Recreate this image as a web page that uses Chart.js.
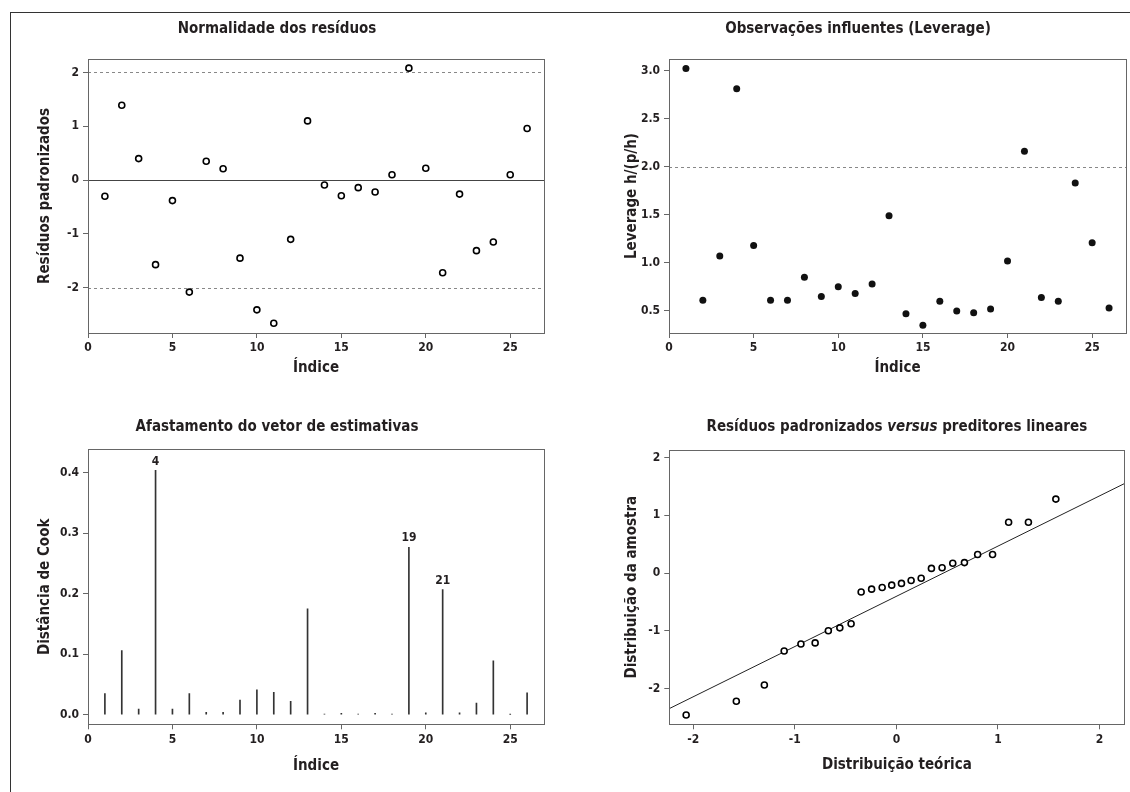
<!DOCTYPE html>
<html><head><meta charset="utf-8">
<script src="https://cdn.jsdelivr.net/npm/chart.js@4.4.0/dist/chart.umd.min.js"></script>
<style>
html,body{margin:0;padding:0;background:#fff;width:1130px;height:792px;overflow:hidden;}
#frame{position:absolute;left:10px;top:12px;width:1200px;height:900px;border-left:1.5px solid #333;border-top:1.5px solid #333;}
canvas{position:absolute;}
</style></head><body>
<div id="frame"></div>
<canvas id="c1" width="560" height="380" style="left:10px;top:12px"></canvas>
<canvas id="c2" width="540" height="380" style="left:590px;top:12px"></canvas>
<canvas id="c3" width="560" height="395" style="left:10px;top:395px"></canvas>
<canvas id="c4" width="540" height="395" style="left:590px;top:395px"></canvas>
<script>
// ---- data ----
const indices = [1,2,3,4,5,6,7,8,9,10,11,12,13,14,15,16,17,18,19,20,21,22,23,24,25,26];
const residuos = [-0.30,1.39,0.40,-1.57,-0.38,-2.08,0.35,0.21,-1.45,-2.41,-2.66,-1.10,1.10,-0.09,-0.29,-0.14,-0.22,0.10,2.08,0.22,-1.72,-0.26,-1.31,-1.15,0.10,0.96];
const leverage = [3.02,0.61,1.07,2.81,1.18,0.61,0.61,0.85,0.65,0.75,0.68,0.78,1.49,0.47,0.35,0.60,0.50,0.48,0.52,1.02,2.16,0.64,0.60,1.83,1.21,0.53];
const cook = [0.035,0.106,0.009,0.404,0.009,0.035,0.004,0.004,0.024,0.041,0.037,0.022,0.175,0.001,0.002,0.001,0.002,0.001,0.277,0.003,0.207,0.003,0.019,0.089,0.0005,0.036];
const cookLabeled = [4,19,21];
const qqTeorica = [-2.07,-1.576,-1.30,-1.105,-0.94,-0.80,-0.67,-0.557,-0.446,-0.347,-0.244,-0.14,-0.046,0.05,0.145,0.244,0.345,0.45,0.555,0.67,0.80,0.947,1.105,1.30,1.57];
const qqAmostra = [-2.46,-2.22,-1.94,-1.35,-1.23,-1.21,-1.00,-0.95,-0.88,-0.33,-0.28,-0.25,-0.21,-0.18,-0.13,-0.09,0.08,0.09,0.17,0.18,0.32,0.32,0.88,0.88,1.28];
const qqLine = {intercept:-0.404, slope:0.8695};
const indexTicks = [0,5,10,15,20,25];
const residTicks = [-2,-1,0,1,2];
const leverageTicks = [0.5,1.0,1.5,2.0,2.5,3.0];
const cookTicks = [0.0,0.1,0.2,0.3,0.4];
const qqTicks = [-2,-1,0,1,2];
const residDashed = [-2,2];
const residSolid = [0];
const leverageDashed = [2];

const FONT = "'DejaVu Sans Condensed','Liberation Sans Narrow','Roboto Condensed',Roboto,sans-serif";
const TXT = '#231f20';
const AXC = '#666';
const TSIZE = 15, ASIZE = 15, KSIZE = 12;

const boxPlugin = {
  id:'box',
  afterDraw(chart){
    const a=chart.chartArea, c=chart.ctx;
    c.save(); c.strokeStyle=AXC; c.lineWidth=1;
    c.strokeRect(Math.round(a.left)+0.5, Math.round(a.top)+0.5, Math.round(a.right-a.left), Math.round(a.bottom-a.top));
    c.restore();
  }
};
const refPlugin = {
  id:'refs',
  beforeDatasetsDraw(chart, args, opts){
    const a=chart.chartArea, c=chart.ctx, y=chart.scales.y;
    c.save();
    (opts.dashed||[]).forEach(v=>{
      const py=Math.round(y.getPixelForValue(v))+0.5;
      c.strokeStyle='#888'; c.lineWidth=1; c.setLineDash([3,3]);
      c.beginPath(); c.moveTo(a.left,py); c.lineTo(a.right,py); c.stroke();
    });
    (opts.solid||[]).forEach(v=>{
      const py=Math.round(y.getPixelForValue(v))+0.5;
      c.strokeStyle='#444'; c.lineWidth=1; c.setLineDash([]);
      c.beginPath(); c.moveTo(a.left,py); c.lineTo(a.right,py); c.stroke();
    });
    c.restore();
  }
};
const cookLabelPlugin = {
  id:'cookLabels',
  afterDatasetsDraw(chart){
    const c=chart.ctx, x=chart.scales.x, y=chart.scales.y;
    c.save(); c.fillStyle=TXT; c.font="bold 12px "+FONT; c.textAlign='center'; c.textBaseline='bottom';
    cookLabeled.forEach(i=>{
      c.fillText(String(i), x.getPixelForValue(i), y.getPixelForValue(cook[i-1])-3);
    });
    c.restore();
  }
};

function axis(opts){
  return Object.assign({
    type:'linear', offset:false,
    grid:{display:true, offset:false, drawOnChartArea:false, drawTicks:true, tickLength:5, tickColor:AXC, color:AXC},
    border:{display:true, color:AXC, width:1},
  }, opts);
}
function xAxis(min,max,tickVals,title,h,padB,fmt){
  return axis({min,max,
    afterBuildTicks:s=>{s.ticks=tickVals.map(v=>({value:v}));},
    afterFit:s=>{s.height=h;},
    ticks:{color:TXT, font:{family:FONT,size:KSIZE,weight:'bold'}, padding:3, autoSkip:false, maxRotation:0, callback:fmt||(v=>String(v))},
    title:{display:true,text:title,color:TXT,font:{family:FONT,size:ASIZE,weight:'bold'},padding:{top:0,bottom:padB}}
  });
}
function yAxis(min,max,tickVals,title,w,padT,fmt){
  return axis({min,max,
    afterBuildTicks:s=>{s.ticks=tickVals.map(v=>({value:v}));},
    afterFit:s=>{s.width=w;},
    ticks:{color:TXT, font:{family:FONT,size:KSIZE,weight:'bold'}, padding:4, autoSkip:false, callback:fmt||(v=>String(v))},
    title:{display:true,text:title,color:TXT,font:{family:FONT,size:ASIZE,weight:'bold'},padding:{top:padT,bottom:0}}
  });
}
function titleOpt(text,pt,pb){
  return {display:true,text,color:TXT,font:{family:FONT,size:TSIZE,weight:'bold',lineHeight:1.2},padding:{top:pt,bottom:pb}};
}
const base = {responsive:false, animation:false, devicePixelRatio:1};
const fmt1 = v=>Number(v).toFixed(1);

// Panel 1
new Chart(document.getElementById('c1'), {
  type:'scatter',
  data:{datasets:[{data:indices.map((x,i)=>({x,y:residuos[i]})), pointRadius:3, pointBorderWidth:1.6, pointBorderColor:'#000', pointBackgroundColor:'#fff'}]},
  options:Object.assign({}, base, {
    layout:{padding:{left:0,right:26,top:0,bottom:0}},
    plugins:{legend:{display:false},tooltip:{enabled:false},title:titleOpt('Normalidade dos resíduos',8,21),refs:{dashed:residDashed,solid:residSolid}},
    scales:{x:xAxis(0,27,indexTicks,'Índice',59,15), y:yAxis(-2.84,2.25,residTicks,'Resíduos padronizados',78,26)}
  }),
  plugins:[boxPlugin,refPlugin]
});

// Panel 2
new Chart(document.getElementById('c2'), {
  type:'scatter',
  data:{datasets:[{data:indices.map((x,i)=>({x,y:leverage[i]})), pointRadius:3.5, pointBorderWidth:0, pointBackgroundColor:'#111'}]},
  options:Object.assign({}, base, {
    layout:{padding:{left:0,right:4,top:0,bottom:0}},
    plugins:{legend:{display:false},tooltip:{enabled:false},title:titleOpt('Observações influentes (Leverage)',8,21),refs:{dashed:leverageDashed}},
    scales:{x:xAxis(0,27,indexTicks,'Índice',59,15), y:yAxis(0.27,3.12,leverageTicks,'Leverage h/(p/h)',79,33,fmt1)}
  }),
  plugins:[boxPlugin,refPlugin]
});

// Panel 3
new Chart(document.getElementById('c3'), {
  type:'bar',
  data:{datasets:[{data:indices.map((x,i)=>({x,y:cook[i]})), backgroundColor:'#333', barThickness:1}]},
  options:Object.assign({}, base, {
    layout:{padding:{left:0,right:26,top:0,bottom:0}},
    plugins:{legend:{display:false},tooltip:{enabled:false},title:titleOpt('Afastamento do vetor de estimativas',23,13.3)},
    scales:{x:xAxis(0,27,indexTicks,'Índice',65.7,15), y:yAxis(-0.016,0.439,cookTicks,'Distância de Cook',78,26,fmt1)}
  }),
  plugins:[boxPlugin,cookLabelPlugin]
});

// Panel 4
const qxMin=-2.236, qxMax=2.245;
new Chart(document.getElementById('c4'), {
  type:'scatter',
  data:{datasets:[
    {data:qqTeorica.map((x,i)=>({x,y:qqAmostra[i]})), pointRadius:3, pointBorderWidth:1.6, pointBorderColor:'#000', pointBackgroundColor:'#fff'},
    {type:'line', data:[qxMin,qxMax].map(x=>({x,y:qqLine.intercept+qqLine.slope*x})), borderColor:'#222', borderWidth:1, pointRadius:0, fill:false}
  ]},
  options:Object.assign({}, base, {
    layout:{padding:{left:0,right:4.3,top:55,bottom:0}},
    plugins:{legend:{display:false},tooltip:{enabled:false},title:{display:false}},
    scales:{x:xAxis(qxMin,qxMax,qqTicks,'Distribuição teórica',65.7,16), y:yAxis(-2.62,2.13,qqTicks,'Distribuição da amostra',79.3,33)}
  }),
  plugins:[boxPlugin,{
    id:'mixedTitle',
    afterDraw(chart){
      const c=chart.ctx;
      const parts=[['Resíduos padronizados ','bold '],['versus','italic bold '],[' preditores lineares','bold ']];
      c.save(); c.fillStyle=TXT; c.textBaseline='middle';
      let total=0; parts.forEach(p=>{c.font=p[1]+TSIZE+'px '+FONT; total+=c.measureText(p[0]).width;});
      const a=chart.chartArea; let x=(a.left+a.right)/2 - total/2;
      parts.forEach(p=>{c.font=p[1]+TSIZE+'px '+FONT; c.fillText(p[0],x,32); x+=c.measureText(p[0]).width;});
      c.restore();
    }
  }]
});
</script>
</body></html>
